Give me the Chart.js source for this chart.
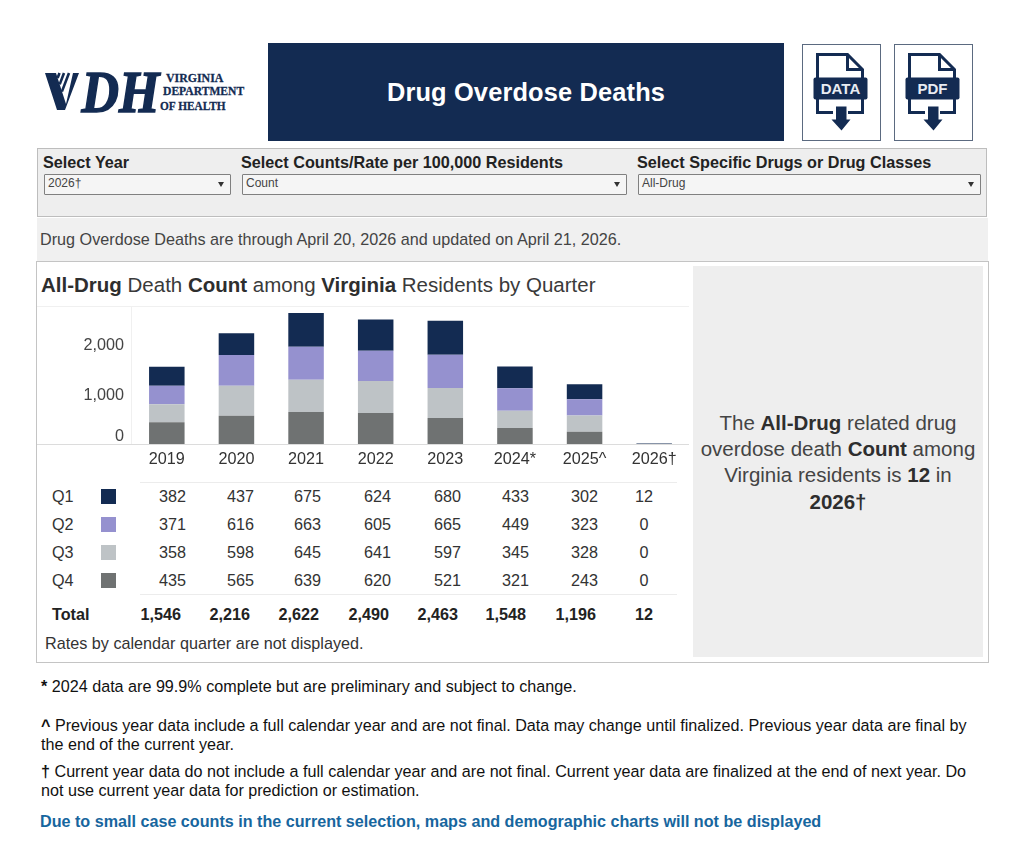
<!DOCTYPE html>
<html lang="en">

<head>
    <meta charset="UTF-8" />
    <title>Drug Overdose Deaths</title>
    <script src="https://cdn.jsdelivr.net/npm/chart.js"></script>
    <style>
        * { box-sizing: border-box; }
        html, body { margin: 0; background: #fff; }
        body { position: relative; width: 1024px; height: 862px; overflow: hidden; font-family: "Liberation Sans", Arial, sans-serif; color: #333; }
        .abs { position: absolute; white-space: nowrap; }
        .bar-title { left: 268px; top: 43px; width: 516px; height: 98px; background: #132b52; color: #fff; font-size: 25.4px; font-weight: bold; line-height: 98px; text-align: center; letter-spacing: .15px; }
        .icon-box { top: 44px; width: 79px; height: 97px; border: 1.5px solid #5b6a80; background: #fff; }
        .filters { left: 37px; top: 148px; width: 950px; height: 69px; background: #eeeeee; border: 1px solid #bdbdbd; }
        .filter-label { top: 153px; font-size: 16.2px; font-weight: bold; color: #222; line-height: 18px; }
        .select { top: 174px; height: 21px; background: #f5f5f5; border: 1.5px solid #808080; border-radius: 1px; font-size: 12px; line-height: 17px; padding-left: 3px; color: #444; }
        .select::after { content: ""; position: absolute; right: 6px; top: 7px; border: 3.5px solid transparent; border-top: 5px solid #333; border-bottom: 0; }
        .status { left: 37px; top: 218px; width: 951px; height: 43px; background: #f0f0f0; font-size: 16.2px; line-height: 42px; padding-left: 3px; color: #444; }
        .panel { left: 36px; top: 261px; width: 953px; height: 402px; border: 1px solid #c4c4c4; background: #fff; }
        .chart-title { left: 41px; top: 273px; font-size: 20.5px; line-height: 24px; color: #3a3a3a; }
        .chart-title b, .callout b { color: #2e2e2e; }
        .callout { left: 693px; top: 266px; width: 290px; height: 391px; background: #eeeeee; }
        .callout div { position: absolute; left: 0; width: 290px; text-align: center; font-size: 20.5px; line-height: 26px; color: #444; }
        #chartBox { left: 37px; top: 306px; }
        .rule { height: 1px; background: #ececec; }
        .cell { font-size: 16.2px; line-height: 20px; color: #333; }
        .cell.num { text-align: right; }
        .cell.total { font-weight: bold; color: #222; }
        .swatch { left: 101px; width: 15px; height: 15px; }
        .note { left: 41px; font-size: 16.15px; line-height: 19px; color: #111; }
        .note.blue { font-size: 16.15px; font-weight: bold; color: #17669e; left: 40px; }
    </style>
</head>

<body>
    <!-- logo: the V is a striped shape, the rest is type -->
    <svg class="abs" style="left:40px;top:56px" width="210" height="72" viewBox="0 0 210 72">
        <text transform="translate(4 56) scale(.88 1)" font-family="Liberation Serif" font-weight="bold" font-style="italic" font-size="59" fill="#132b52" stroke="#132b52" stroke-width="1.6"><tspan fill="none" stroke="none">V</tspan><tspan dx="3.4">DH</tspan></text>
        <path d="M5 17 H16 L26 48 L33 17 H39 L25 54 H17 Z" fill="#132b52" />
        <path d="M29 17 L21.9 35.6 M24 17 L19.7 28.4 M19.5 17 L17.6 22" stroke="#132b52" stroke-width="2.6" fill="none" />
        <g font-family="Liberation Serif" font-weight="bold" font-size="13.5" fill="#132b52" stroke="#132b52" stroke-width=".3">
            <text transform="translate(126 26) scale(.88 1)">VIRGINIA</text>
            <text transform="translate(123 39) scale(.86 1)">DEPARTMENT</text>
            <text transform="translate(120 54) scale(.84 1)">OF HEALTH</text>
        </g>
    </svg>

    <div class="abs bar-title">Drug Overdose Deaths</div>

    <!-- download buttons -->
    <div class="abs icon-box" style="left:802px">
        <svg width="76" height="94" viewBox="0 0 76 94">
            <path d="M14.5 36 V9.5 H44.5 L59.5 24.5 V36 M44.5 9.5 V24.5 H59.5 M14.5 52 V67.5 H30 M45 67.5 H59.5 V52" fill="none" stroke="#132b52" stroke-width="3" />
            <rect x="10.5" y="32.5" width="54" height="22" rx="2" fill="#132b52" />
            <text x="37.5" y="49" text-anchor="middle" font-family="Liberation Sans" font-weight="bold" font-size="15" fill="#e8ecf2">DATA</text>
            <path d="M33 61.5 H43.5 V74.5 H47.5 L38.5 85.5 L28.5 74.5 H33 Z" fill="#132b52" />
        </svg>
    </div>
    <div class="abs icon-box" style="left:894px">
        <svg width="76" height="94" viewBox="0 0 76 94">
            <path d="M14.5 36 V9.5 H44.5 L59.5 24.5 V36 M44.5 9.5 V24.5 H59.5 M14.5 52 V67.5 H30 M45 67.5 H59.5 V52" fill="none" stroke="#132b52" stroke-width="3" />
            <rect x="10.5" y="32.5" width="54" height="22" rx="2" fill="#132b52" />
            <text x="37.5" y="49" text-anchor="middle" font-family="Liberation Sans" font-weight="bold" font-size="15" fill="#e8ecf2">PDF</text>
            <path d="M33 61.5 H43.5 V74.5 H47.5 L38.5 85.5 L28.5 74.5 H33 Z" fill="#132b52" />
        </svg>
    </div>

    <!-- filters -->
    <div class="abs filters"></div>
    <div class="abs filter-label" style="left:43px">Select Year</div>
    <div class="abs filter-label" style="left:241px">Select Counts/Rate per 100,000 Residents</div>
    <div class="abs filter-label" style="left:637px">Select Specific Drugs or Drug Classes</div>
    <div class="abs select" style="left:44px;width:187px">2026†</div>
    <div class="abs select" style="left:242px;width:385px">Count</div>
    <div class="abs select" style="left:638px;width:343px">All-Drug</div>

    <div class="abs status">Drug Overdose Deaths are through April 20, 2026 and updated on April 21, 2026.</div>

    <!-- chart panel -->
    <div class="abs panel"></div>
    <div class="abs chart-title"><b>All-Drug</b> Death <b>Count</b> among <b>Virginia</b> Residents by Quarter</div>
    <div class="abs" id="chartBox"><canvas id="graficoQuarter" width="652" height="165"></canvas></div>
    <div class="abs rule" style="left:140px;top:482px;width:537px"></div>
    <div class="abs rule" style="left:140px;top:594px;width:537px"></div>
    <div id="tabela"></div>
    <div class="abs cell" style="left:45px;top:633px">Rates by calendar quarter are not displayed.</div>

    <div class="abs callout">
        <div style="top:144px">The <b>All-Drug</b> related drug</div>
        <div style="top:170px">overdose death <b>Count</b> among</div>
        <div style="top:196px">Virginia residents is <b>12</b> in</div>
        <div style="top:223px"><b>2026†</b></div>
    </div>

    <!-- footnotes -->
    <div class="abs note" style="top:677px"><b>*</b> 2024 data are 99.9% complete but are preliminary and subject to change.</div>
    <div class="abs note" style="top:716px"><b>^</b> Previous year data include a full calendar year and are not final. Data may change until finalized. Previous year data are final by<br>the end of the current year.</div>
    <div class="abs note" style="top:762px"><b>†</b> Current year data do not include a full calendar year and are not final. Current year data are finalized at the end of next year. Do<br>not use current year data for prediction or estimation.</div>
    <div class="abs note blue" style="top:812px">Due to small case counts in the current selection, maps and demographic charts will not be displayed</div>

    <script>
        const anos = ['2019', '2020', '2021', '2022', '2023', '2024*', '2025^', '2026†'];
        const q1 = [382, 437, 675, 624, 680, 433, 302, 12];
        const q2 = [371, 616, 663, 605, 665, 449, 323, 0];
        const q3 = [358, 598, 645, 641, 597, 345, 328, 0];
        const q4 = [435, 565, 639, 620, 521, 321, 243, 0];
        const totais = ['1,546', '2,216', '2,622', '2,490', '2,463', '1,548', '1,196', '12'];
        const nomesQ = ['Q1', 'Q2', 'Q3', 'Q4'];
        const coresQ = ['#132b52', '#9591cf', '#bec3c6', '#6f7272'];
        const ticksY = [0, 1000, 2000];
        const eixoMax = 2740;

        // right edges of the table columns, page pixels; the last column is centred
        const colDireita = [186, 254, 321, 391, 461, 529, 598];
        const colDireitaTotal = [181, 250, 319, 389, 458, 526, 596];
        const colCentroUltima = 644;
        const linhasY = [486, 514, 542, 570];
        const totalY = 604;

        function celula(texto, c, topo, classe, direitas) {
            const el = document.createElement('div');
            el.className = 'abs cell ' + classe;
            el.textContent = texto;
            el.style.top = topo + 'px';
            if (c < direitas.length) {
                el.style.right = (1024 - direitas[c]) + 'px';
            } else {
                el.style.left = colCentroUltima + 'px';
                el.style.transform = 'translateX(-50%)';
            }
            document.getElementById('tabela').appendChild(el);
        }

        function montarTabela() {
            const tabela = document.getElementById('tabela');
            [q1, q2, q3, q4].forEach(function (serie, i) {
                const rotulo = document.createElement('div');
                rotulo.className = 'abs cell';
                rotulo.textContent = nomesQ[i];
                rotulo.style.left = '52px';
                rotulo.style.top = linhasY[i] + 'px';
                tabela.appendChild(rotulo);

                const quadrado = document.createElement('div');
                quadrado.className = 'abs swatch';
                quadrado.style.top = (linhasY[i] + 3) + 'px';
                quadrado.style.background = coresQ[i];
                tabela.appendChild(quadrado);

                serie.forEach(function (valor, c) {
                    celula(String(valor), c, linhasY[i], 'num', colDireita);
                });
            });

            const total = document.createElement('div');
            total.className = 'abs cell total';
            total.textContent = 'Total';
            total.style.left = '52px';
            total.style.top = totalY + 'px';
            tabela.appendChild(total);
            totais.forEach(function (valor, c) {
                celula(valor, c, totalY, 'num total', colDireitaTotal);
            });
        }

        // hairlines around the plot, and the 0 label sits above the baseline
        const linhasPlot = {
            id: 'linhasPlot',
            beforeDatasetsDraw(chart) {
                const { ctx, chartArea } = chart;
                ctx.save();
                ctx.lineWidth = 1;
                ctx.strokeStyle = '#f0f0f0';
                ctx.beginPath();
                ctx.moveTo(0, 0.5);
                ctx.lineTo(chart.width, 0.5);
                ctx.moveTo(chartArea.left - 0.5, 0);
                ctx.lineTo(chartArea.left - 0.5, chartArea.bottom);
                ctx.stroke();
                ctx.strokeStyle = '#dcdcdc';
                ctx.beginPath();
                ctx.moveTo(0, chartArea.bottom + 0.5);
                ctx.lineTo(chart.width, chartArea.bottom + 0.5);
                ctx.stroke();
                ctx.restore();
            },
            beforeDraw(chart) {
                chart.scales.y.getLabelItems().forEach(function (item) {
                    if (!item.subido) {
                        item.options.translation[1] += item.label === '0' ? -7 : 2;
                        item.subido = true;
                    }
                });
            }
        };

        function graficoQuarter() {
            const ctx = document.getElementById('graficoQuarter');
            new Chart(ctx, {
                type: 'bar',
                data: {
                    labels: anos,
                    datasets: [
                        { label: nomesQ[3], data: q4, backgroundColor: coresQ[3] },
                        { label: nomesQ[2], data: q3, backgroundColor: coresQ[2] },
                        { label: nomesQ[1], data: q2, backgroundColor: coresQ[1] },
                        { label: nomesQ[0], data: q1, backgroundColor: coresQ[0] }
                    ]
                },
                options: {
                    responsive: false,
                    animation: false,
                    layout: { padding: { top: 1 } },
                    plugins: { legend: { display: false }, tooltip: { enabled: false } },
                    datasets: { bar: { barPercentage: 0.51, categoryPercentage: 1 } },
                    scales: {
                        x: {
                            stacked: true,
                            grid: { display: false, drawTicks: false },
                            border: { display: false },
                            ticks: { color: '#333', font: { family: 'Liberation Sans', size: 16.2 }, maxRotation: 0, autoSkip: false, padding: 6 },
                            afterFit(scale) { scale.height = 27; }
                        },
                        y: {
                            stacked: true,
                            min: 0,
                            max: eixoMax,
                            grid: { display: false, drawTicks: false },
                            border: { display: false },
                            afterBuildTicks(scale) { scale.ticks = ticksY.map(function (v) { return { value: v }; }); },
                            ticks: { color: '#444', font: { family: 'Liberation Sans', size: 16.2 }, padding: 8 },
                            afterFit(scale) {
                                scale.width = 95;
                                scale.paddingTop = 0;
                                scale.paddingBottom = 0;
                            }
                        }
                    }
                },
                plugins: [linhasPlot]
            });
        }

        montarTabela();
        graficoQuarter();
    </script>
</body>

</html>
